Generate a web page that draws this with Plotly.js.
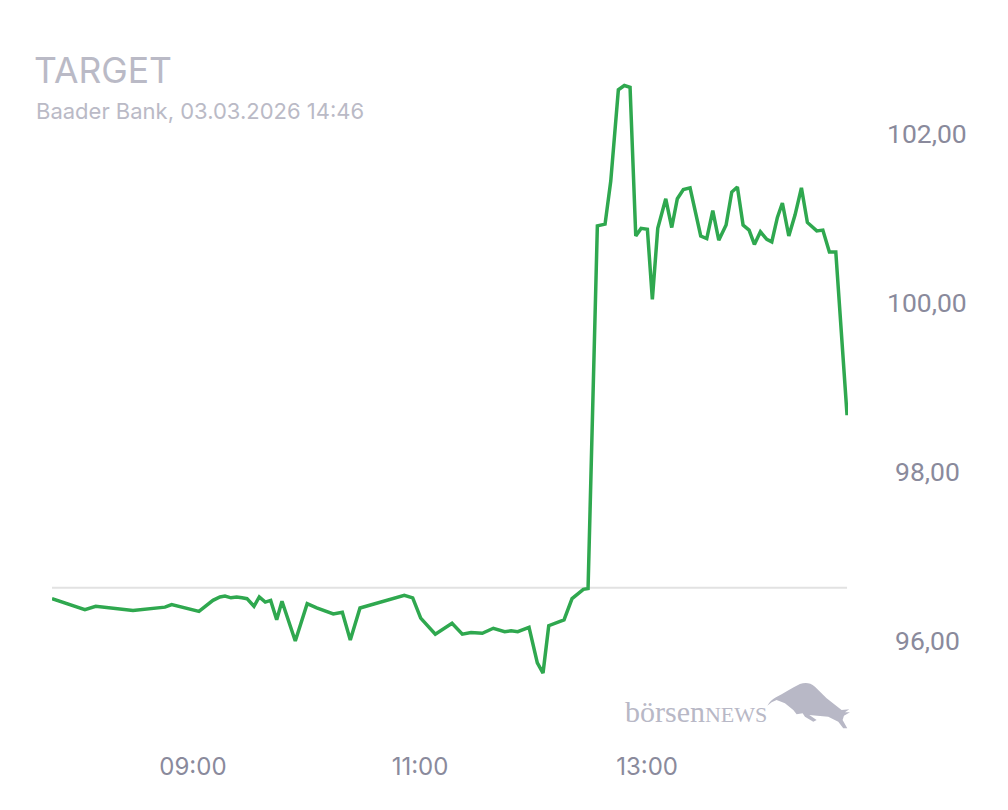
<!DOCTYPE html>
<html>
<head>
<meta charset="utf-8">
<script src="https://cdn.plot.ly/plotly-3.0.1.min.js"></script>
<style>html,body{margin:0;padding:0;background:#fff}#chart{width:1008px;height:810px}</style>
</head>
<body>
<div id="chart"></div>
<script>
const times = ["07:45:30","08:02:54","08:08:36","08:28:18","08:45:12","08:48:45","09:03:10","09:10:35","09:14:16","09:16:55","09:20:05","09:23:06","09:25:54","09:28:33","09:32:15","09:35:03","09:38:13","09:41:04","09:44:15","09:47:03","09:54:05","10:00:22","10:05:24","10:14:10","10:18:56","10:23:09","10:28:17","10:37:57","10:51:42","10:56:08","11:00:22","11:08:05","11:16:55","11:22:22","11:26:58","11:32:56","11:38:45","11:44:46","11:48:07","11:51:39","11:57:37","12:02:00","12:05:01","12:08:02","12:16:07","12:20:21","12:26:20","12:28:49","12:33:44","12:37:48","12:40:49","12:44:50","12:48:00","12:51:01","12:54:02","12:56:50","13:00:10","13:02:48","13:05:39","13:09:53","13:13:03","13:16:00","13:19:11","13:22:44","13:28:22","13:31:33","13:34:44","13:37:54","13:41:46","13:44:46","13:47:44","13:50:45","13:53:55","13:56:44","13:59:54","14:03:17","14:05:55","14:08:53","14:11:31","14:14:55","14:18:14","14:21:35","14:24:44","14:29:42","14:32:54","14:36:22","14:39:45","14:45:42"];
const prices = [96.50,96.37,96.41,96.36,96.40,96.43,96.35,96.48,96.52,96.53,96.51,96.52,96.51,96.50,96.41,96.52,96.46,96.48,96.25,96.47,96.00,96.44,96.39,96.32,96.34,96.01,96.39,96.45,96.54,96.51,96.27,96.08,96.21,96.08,96.10,96.09,96.15,96.11,96.12,96.11,96.16,95.74,95.62,96.18,96.25,96.50,96.61,96.62,100.91,100.93,101.44,102.52,102.57,102.55,100.79,100.88,100.87,100.04,100.88,101.23,100.89,101.23,101.34,101.36,100.79,100.76,101.09,100.74,100.92,101.31,101.37,100.92,100.86,100.69,100.84,100.75,100.72,101.01,101.18,100.79,101.04,101.36,100.95,100.85,100.86,100.60,100.60,98.67];
const previousClose = 96.63;
const day = "2026-03-03 ";
const xTicks = ["09:00","11:00","13:00"];
const yTicks = [96,98,100,102];
const yTickLabels = ["96,00","98,00","100,00","102,00"];
const titleText = "TARGET";
const subtitleText = "Baader Bank, 03.03.2026 14:46";

const bull = "<svg xmlns='http://www.w3.org/2000/svg' viewBox='0 0 300 180'><path fill='#b8b8c6' d='M22 92 C30 80 38 72 48 67 C70 55 95 40 120 27 C135 22 150 22 165 35 L200 70 L245 105 L268 103 L255 112 L270 112 L252 122 L248 135 L262 160 L250 160 L235 140 L205 125 L172 122 L148 120 L170 135 L160 140 L135 125 L128 115 L110 118 L100 105 L75 85 L50 75 L35 82 Z'/></svg>";

const xs = times.map(t => day + t);
const yLabelAnnotations = yTicks.map((v, i) => ({
  xref:"paper", yref:"y", x:1.0998, y:v+0.006, xanchor:"center", yanchor:"middle", showarrow:false,
  text:yTickLabels[i], font:{family:"Roboto, sans-serif", size:26.5, color:"#8a8a9c"}
}));
Plotly.newPlot("chart", [
  {x:[xs[0], xs[xs.length-1]], y:[previousClose, previousClose], mode:"lines", line:{color:"#e2e2e2", width:2}, hoverinfo:"skip"},
  {x:xs, y:prices, mode:"lines", line:{color:"#2fa84f", width:3.5}, hoverinfo:"x+y"}
], {
  width:1008, height:810, showlegend:false, separators:",.",
  paper_bgcolor:"#fff", plot_bgcolor:"#fff",
  margin:{l:52, r:160, t:50, b:60},
  xaxis:{type:"date", range:[xs[0], day + "14:46:12"], showgrid:false, zeroline:false, showline:false,
    tickmode:"array", tickvals:xTicks.map(t => day + t + ":00"), ticktext:xTicks, ticks:"",
    tickfont:{family:"Inter, sans-serif", size:24, color:"#8a8a9c"}},
  yaxis:{side:"right", range:[94.71,102.99], showgrid:false, zeroline:false, showline:false,
    tickmode:"array", tickvals:yTicks, showticklabels:false, ticks:""},
  annotations:yLabelAnnotations.concat([
    {xref:"paper", yref:"paper", x:-0.0245, y:0.971, xanchor:"left", yanchor:"middle", showarrow:false, text:titleText,
      font:{family:"Inter, sans-serif", size:35.5, color:"#babac6"}},
    {xref:"paper", yref:"paper", x:-0.0228, y:0.913, xanchor:"left", yanchor:"middle", showarrow:false, text:subtitleText,
      font:{family:"Inter, sans-serif", size:22, color:"#babac6"}},
    {xref:"paper", yref:"paper", x:0.7172, y:0.055, xanchor:"left", yanchor:"middle", showarrow:false,
      text:"börsen<span style='font-size:22px'>NEWS</span>",
      font:{family:"Liberation Serif, serif", size:30, color:"#b8b8c6"}}
  ]),
  images:[{source:"data:image/svg+xml,"+encodeURIComponent(bull), xref:"paper", yref:"paper",
    x:0.8894, y:0.1071, sizex:0.1256, sizey:0.0857, xanchor:"left", yanchor:"top", sizing:"stretch", layer:"above"}]
}, {staticPlot:true, displayModeBar:false});
</script>
</body>
</html>
